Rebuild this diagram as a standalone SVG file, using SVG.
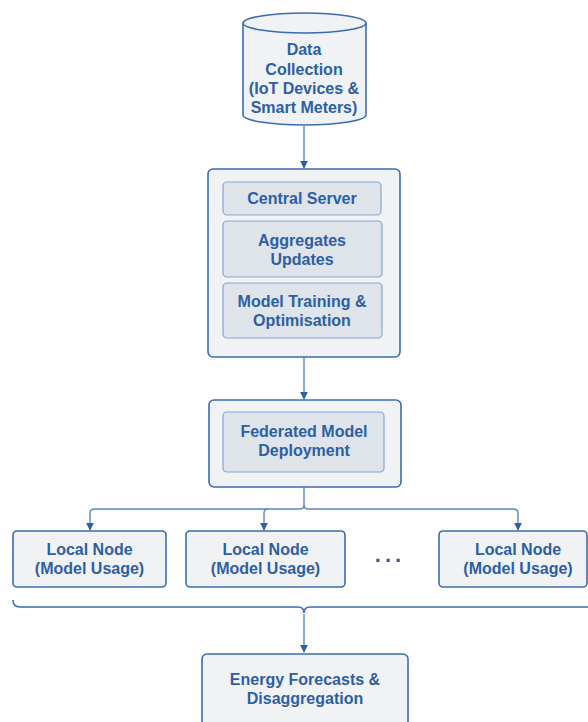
<svg xmlns="http://www.w3.org/2000/svg" width="588" height="722" viewBox="0 0 588 722">
<defs>
<style>
.outer{fill:#f1f2f4;stroke:#3b6cb0;stroke-width:1.6}
.inner{fill:#dfe3ea;stroke:#86a6d4;stroke-width:1.2}
.t{font-family:"Liberation Sans",Arial,sans-serif;font-weight:bold;font-size:16px;fill:#2d5fa4;text-anchor:middle}
.c{fill:none;stroke:#5a86c2;stroke-width:1.4}
</style>
<marker id="ah" viewBox="0 0 10 10" refX="9" refY="5" markerWidth="8" markerHeight="9" markerUnits="userSpaceOnUse" orient="auto">
<path d="M0,0 L10,5 L0,10 Z" fill="#2d5fa4"/>
</marker>
</defs>
<rect width="588" height="722" fill="#ffffff"/>

<g id="connectors">
<path class="c" d="M304,126 V168" marker-end="url(#ah)"/>
<path class="c" d="M304,357 V399" marker-end="url(#ah)"/>
<path class="c" d="M304,487 V505 Q304,509 300,509 H94 Q90,509 90,513 V530" marker-end="url(#ah)"/>
<path class="c" d="M304,505 Q304,509 308,509 H514 Q518,509 518,513 V530" marker-end="url(#ah)"/>
<path class="c" d="M268,509 Q264,509 264,513 V530" marker-end="url(#ah)"/>
<path d="M13,600 Q13,607 20,607 H298 Q304,607 304,613 Q304,607 310,607 H588" fill="none" stroke="#3b6cb0" stroke-width="1.6"/>
<path class="c" d="M304,614 V652" marker-end="url(#ah)"/>
</g>

<g id="data-collection">
<path d="M243,23 V115 A61.5,10 0 0 0 366,115 V23" class="outer"/>
<ellipse cx="304.5" cy="23" rx="61.5" ry="10" class="outer"/>
<text class="t" x="304" y="55">Data</text>
<text class="t" x="304" y="75">Collection</text>
<text class="t" x="304" y="94">(IoT Devices &amp;</text>
<text class="t" x="304" y="113">Smart Meters)</text>
</g>

<g id="central">
<rect class="outer" x="208" y="169" width="192" height="188" rx="5"/>
<g id="central-server">
<rect class="inner" x="223" y="182" width="158" height="33" rx="4"/>
<text class="t" x="302" y="204">Central Server</text>
</g>
<g id="aggregates">
<rect class="inner" x="223" y="221" width="159" height="56" rx="4"/>
<text class="t" x="302" y="246">Aggregates</text>
<text class="t" x="302" y="265">Updates</text>
</g>
<g id="training">
<rect class="inner" x="223" y="283" width="159" height="55" rx="4"/>
<text class="t" x="302" y="307">Model Training &amp;</text>
<text class="t" x="302" y="326">Optimisation</text>
</g>
</g>

<g id="federated">
<rect class="outer" x="209" y="400" width="192" height="87" rx="5"/>
<rect class="inner" x="223" y="412" width="161" height="60" rx="4"/>
<text class="t" x="304" y="437">Federated Model</text>
<text class="t" x="304" y="456">Deployment</text>
</g>

<g id="local1">
<rect class="outer" x="13" y="531" width="153" height="56" rx="4"/>
<text class="t" x="89.5" y="555">Local Node</text>
<text class="t" x="89.5" y="574">(Model Usage)</text>
</g>
<g id="local2">
<rect class="outer" x="186" y="531" width="159" height="56" rx="4"/>
<text class="t" x="265.5" y="555">Local Node</text>
<text class="t" x="265.5" y="574">(Model Usage)</text>
</g>
<g id="ellipsis">
<text class="t" x="390" y="562" style="font-size:22px;letter-spacing:4px">...</text>
</g>
<g id="local3">
<rect class="outer" x="439" y="531" width="148" height="56" rx="4"/>
<text class="t" x="518" y="555">Local Node</text>
<text class="t" x="518" y="574">(Model Usage)</text>
</g>

<g id="energy">
<rect class="outer" x="202" y="654" width="206" height="80" rx="5"/>
<text class="t" x="305" y="685">Energy Forecasts &amp;</text>
<text class="t" x="305" y="704">Disaggregation</text>
</g>
</svg>
